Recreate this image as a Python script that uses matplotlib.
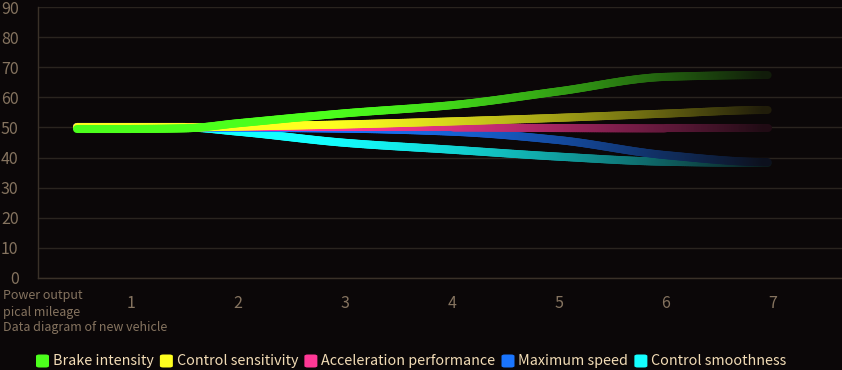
import numpy as np
import matplotlib
matplotlib.use("Agg")
import matplotlib.pyplot as plt
from matplotlib.collections import LineCollection
from matplotlib.patches import FancyBboxPatch
from matplotlib.colors import to_rgb

plt.rcParams['font.family'] = ['Noto Sans CJK SC', 'DejaVu Sans']

# ---- data ----
x_pts = [0.5, 1, 1.5, 2, 3, 4, 5, 6, 6.95]
brake = [49.5, 49.5, 49.7, 51.4, 54.7, 57.4, 62.0, 66.8, 67.4]
sensitivity = [50, 50, 50, 50.3, 51.0, 52.0, 53.2, 54.6, 55.8]
acceleration = [50, 50, 50, 50, 50, 50, 49.8, 49.7, 49.7]
max_speed = [50, 50, 50, 49.9, 49.6, 48.6, 45.8, 40.8, 38.5]
smoothness = [50, 50, 50, 48.6, 44.9, 42.6, 40.3, 38.6, 38.2]
names = ["Brake intensity", "Control sensitivity", "Acceleration performance",
         "Maximum speed", "Control smoothness"]
series = [brake, sensitivity, acceleration, max_speed, smoothness]
colors = ["#4cff1c", "#ffff1f", "#ff3896", "#1a75ff", "#14ffff"]
x_ticks = [1, 2, 3, 4, 5, 6, 7]
y_ticks = [0, 10, 20, 30, 40, 50, 60, 70, 80, 90]

BG = "#0b0708"
TICK_C = "#85735f"
GRID_C = "#2a241f"
LEG_C = "#f2dcb6"

fig = plt.figure(figsize=(8.42, 3.70), dpi=100, facecolor=BG)
ax = fig.add_axes([38/842, 1-278/370, 1-38/842, 271/370], facecolor=BG)


def pchip(x, y, xs):
    x = np.asarray(x, float); y = np.asarray(y, float)
    h = np.diff(x); d = np.diff(y) / h
    n = len(x); m = np.zeros(n)
    for k in range(1, n-1):
        if d[k-1] * d[k] <= 0:
            m[k] = 0
        else:
            w1 = 2*h[k] + h[k-1]; w2 = h[k] + 2*h[k-1]
            m[k] = (w1 + w2) / (w1/d[k-1] + w2/d[k])
    m[0] = 0; m[-1] = 0
    out = np.empty_like(xs)
    for i, xv in enumerate(xs):
        k = min(np.searchsorted(x, xv, side='right') - 1, n-2)
        k = max(k, 0)
        t = (xv - x[k]) / h[k]
        h00 = 2*t**3 - 3*t**2 + 1; h10 = t**3 - 2*t**2 + t
        h01 = -2*t**3 + 3*t**2; h11 = t**3 - t**2
        out[i] = h00*y[k] + h10*h[k]*m[k] + h01*y[k+1] + h11*h[k]*m[k+1]
    return out


bg = np.array(to_rgb(BG))
xs = np.linspace(x_pts[0], x_pts[-1], 400)
order = [4, 3, 2, 1, 0]
for i in order:
    ys = pchip(x_pts, series[i], xs)
    t = (xs - xs[0]) / (xs[-1] - xs[0])
    a = np.where(t < 0.35, 1.0, 1 - 0.92 * np.clip((t - 0.35) / 0.65, 0, 1) ** 1.4)
    c = np.array(to_rgb(colors[i]))
    cols = bg[None, :] + (c - bg)[None, :] * a[:, None]
    pts = np.column_stack([xs, ys]).reshape(-1, 1, 2)
    segs = np.concatenate([pts[:-1], pts[1:]], axis=1)
    lc = LineCollection(segs, colors=cols[:-1], linewidths=5.8, capstyle='round',
                        joinstyle='round', zorder=3 + (5 - i))
    ax.add_collection(lc)

ax.set_xlim(0.131, 7.645)
ax.set_ylim(0, 90)
ax.set_xticks(x_ticks)
ax.set_xticklabels([str(v) for v in x_ticks])
ax.set_yticks(y_ticks)
ax.tick_params(axis='both', length=0, colors=TICK_C, labelsize=11.5)
ax.tick_params(axis='x', pad=12)
ax.tick_params(axis='y', pad=14)
ax.grid(axis='y', color=GRID_C, linewidth=1)
ax.set_axisbelow(True)
for s in ['top', 'right']:
    ax.spines[s].set_visible(False)
for s in ['left', 'bottom']:
    ax.spines[s].set_color("#3a3128")
    ax.spines[s].set_linewidth(1)

fig.text(3/842, 1-289/370, "Power output\npical mileage", color=TICK_C, fontsize=9,
         ha='left', va='top', linespacing=1.4)
fig.text(3/842, 1-327/370, "Data diagram of new vehicle", color=TICK_C, fontsize=9,
         ha='left', va='center')

# legend
fig.canvas.draw()
renderer = fig.canvas.get_renderer()
xpos = 36
ycen = 361
sq = 13
for name, col in zip(names, colors):
    box = FancyBboxPatch(((xpos)/842, (370-ycen-sq/2)/370), sq/842, sq/370,
                         boxstyle="round,pad=0,rounding_size=0.004",
                         transform=fig.transFigure, facecolor=col, edgecolor='none')
    fig.patches.append(box)
    tx = fig.text((xpos + sq + 4)/842, (370-ycen)/370, name, color=LEG_C, fontsize=10.3,
                  ha='left', va='center')
    ext = tx.get_window_extent(renderer)
    xpos = ext.x1 + 6

fig.savefig("out.png", dpi=100, facecolor=BG)
